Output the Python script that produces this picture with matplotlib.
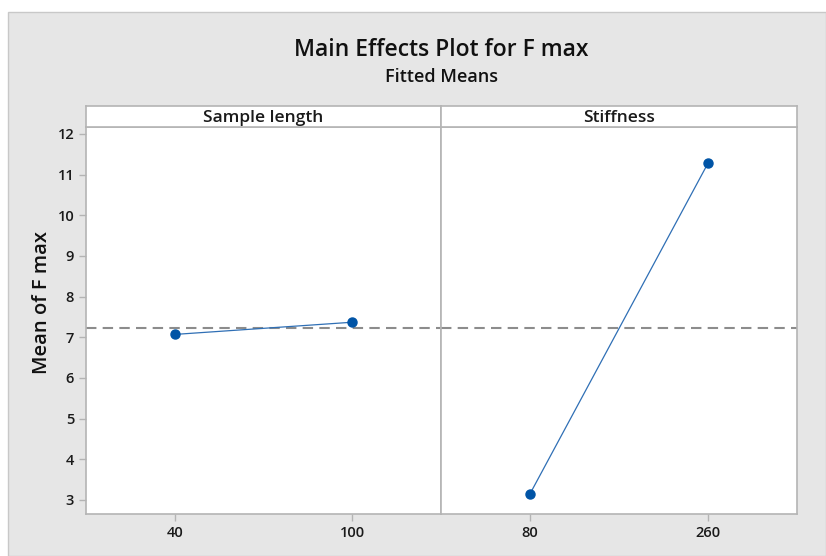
import matplotlib
matplotlib.use("Agg")
import matplotlib.pyplot as plt
from matplotlib.patches import Rectangle

plt.rcParams['font.family'] = ['Open Sans', 'DejaVu Sans']

# data
factors = ["Sample length", "Stiffness"]
levels = [["40", "100"], ["80", "260"]]
means = [[7.07, 7.37], [3.15, 11.28]]
grand_mean = 7.22
yticks = [3, 4, 5, 6, 7, 8, 9, 10, 11, 12]

W, H = 826, 556
fig = plt.figure(figsize=(W / 100, H / 100), dpi=100)
fig.patch.set_facecolor("white")

# grey background box
fig.patches.append(Rectangle((8 / W, 0), 1 - 8 / W, 1 - 12 / H, transform=fig.transFigure,
                             facecolor="#e6e6e6", edgecolor="#c8c8c8", linewidth=1, zorder=-10))

line_col = "#2f6fb5"
mark_col = "#0054a6"
spine_col = "#b4b4b4"

panel_x = [86 / W, 441 / W]
panel_w = [355 / W, 356 / W]
y0 = 1 - 514 / H
ph = (514 - 127) / H
hh = 21 / H

for i, fac in enumerate(factors):
    ax = fig.add_axes([panel_x[i], y0, panel_w[i], ph])
    ax.set_facecolor("white")
    xs = list(range(1, len(levels[i]) + 1))
    ax.axhline(grand_mean, color="#8c8c8c", linestyle=(0, (5, 3)), linewidth=1.5, zorder=1)
    ax.plot(xs, means[i], color=line_col, linewidth=0.9, zorder=2)
    ax.plot(xs, means[i], linestyle="none", marker="o", markersize=6.5,
            color=mark_col, zorder=3)
    ax.set_xlim(0.5, len(xs) + 0.5)
    ax.set_ylim(2.655, 12.17)
    ax.set_xticks(xs)
    ax.set_xticklabels(levels[i], fontsize=10.5, fontweight="semibold")
    ax.set_yticks(yticks)
    if i == 0:
        ax.set_yticklabels([str(t) for t in yticks], fontsize=10.5, fontweight="semibold")
    else:
        ax.tick_params(axis="y", left=False, labelleft=False)
    for s in ax.spines.values():
        s.set_color(spine_col)
        s.set_linewidth(1.2)
    ax.tick_params(colors=spine_col, labelcolor="#1a1a1a", length=5, width=1)

    # header strip
    hx = fig.add_axes([panel_x[i], y0 + ph, panel_w[i], hh])
    hx.set_facecolor("white")
    hx.set_xticks([])
    hx.set_yticks([])
    for s in hx.spines.values():
        s.set_color(spine_col)
        s.set_linewidth(1.2)
    hx.text(0.5, 0.45, fac, ha="center", va="center", fontsize=12.5,
            fontweight="semibold", color="#1a1a1a", transform=hx.transAxes)

cx = (panel_x[0] + panel_x[1] + panel_w[1]) / 2
fig.text(cx, 1 - 50 / H, "Main Effects Plot for F max", ha="center", va="center",
         fontsize=16.5, fontweight="semibold", color="#111111")
fig.text(cx, 1 - 77 / H, "Fitted Means", ha="center", va="center",
         fontsize=13, fontweight="semibold", color="#111111")
fig.text(42 / W, 1 - 303 / H, "Mean of F max", ha="center", va="center",
         rotation=90, fontsize=14.5, fontweight="semibold", color="#111111")

fig.savefig("out.png", dpi=100, facecolor=fig.get_facecolor())
